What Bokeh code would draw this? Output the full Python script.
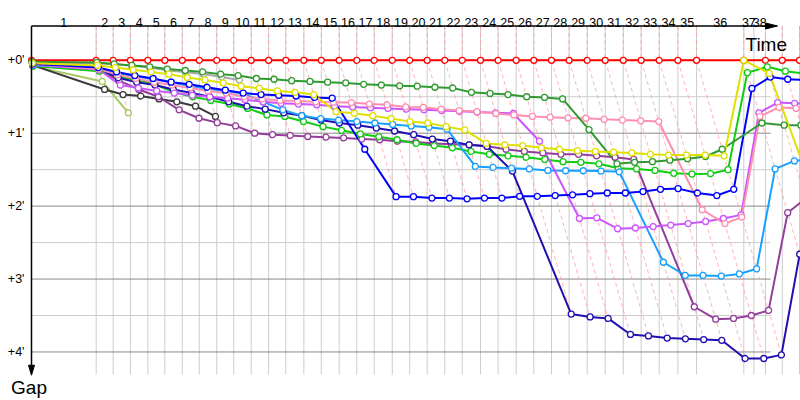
from bokeh.plotting import figure
from bokeh.models import Range1d, FixedTicker, Label, LinearAxis
from bokeh.embed import file_html
from bokeh.resources import INLINE

# ---------------- data (minutes) ----------------
# race leader's lap completion times (lap 0 .. 39), minutes after the start
leader_times = [0.00, 3.08, 3.89, 4.71, 5.54, 6.35, 7.18, 7.99, 8.82, 9.63,
                10.46, 11.29, 12.11, 12.97, 13.80, 14.65, 15.49, 16.32, 17.18, 18.01,
                18.84, 19.68, 20.51, 21.38, 22.22, 23.08, 23.92, 24.76, 25.60, 26.46,
                27.32, 28.18, 29.03, 29.89, 30.78, 31.67, 33.92, 34.95, 35.75, 36.57]
extra_grid_times = [34.40]
lap_labels = [str(n) for n in range(1, 39)]
gap_ticks = [0, 1, 2, 3, 4]
gap_labels = ["+0'", "+1'", "+2'", "+3'", "+4'"]
minor_gap_lines = [0.5, 1.5, 2.5, 3.5]

# gap to the leader at the end of each lap (lap 0 = start), minutes
red_gaps = [0, 0, 0, 0, 0, 0, 0, 0, 0, 0, 0, 0, 0, 0, 0, 0, 0, 0, 0, 0,
            0, 0, 0, 0, 0, 0, 0, 0, 0, 0, 0, 0, 0, 0, 0, 0, 0, 0, 0, 0]
dark_green_gaps = [0.02, 0.03, 0.05, 0.07, 0.09, 0.12, 0.14, 0.16, 0.19, 0.21,
                   0.25, 0.26, 0.28, 0.29, 0.30, 0.31, 0.33, 0.34, 0.35, 0.355,
                   0.37, 0.38, 0.44, 0.455, 0.47, 0.50, 0.51, 0.53, 0.95, 1.42,
                   1.40, 1.39, 1.37, 1.35, 1.32, 1.22, 0.86, 0.89, 0.89, 0.90]
gray_gaps = [0.03, 0.04, 0.055, 0.075, 0.10, 0.14, 0.16, 0.19, 0.23, 0.27]
yellow_gaps = [0.04, 0.07, 0.10, 0.13, 0.16, 0.19, 0.236, 0.27, 0.31, 0.355,
               0.385, 0.42, 0.44, 0.47, 0.705, 0.727, 0.76, 0.80, 0.84, 0.86,
               0.91, 0.955, 1.14, 1.16, 1.17, 1.20, 1.22, 1.24, 1.25, 1.26,
               1.27, 1.29, 1.30, 1.30, 1.30, 1.31, 0.0, 0.18, 2.9]
lime_gaps = [0.08, 0.15, 0.22, 0.27, 0.33, 0.44, 0.50, 0.55, 0.60, 0.66,
             0.75, 0.77, 0.84, 0.91, 0.96, 1.01, 1.05, 1.09, 1.14, 1.17,
             1.20, 1.25, 1.29, 1.31, 1.33, 1.36, 1.39, 1.40, 1.42, 1.48,
             1.49, 1.51, 1.55, 1.56, 1.555, 1.50, 0.17, 0.09, 0.15, 0.18]
blue_gaps = [0.05, 0.10, 0.16, 0.21, 0.25, 0.30, 0.33, 0.37, 0.41, 0.45,
             0.47, 0.48, 0.49, 0.51, 0.52, 1.22, 1.87, 1.87, 1.89, 1.89,
             1.90, 1.89, 1.89, 1.865, 1.865, 1.855, 1.845, 1.83, 1.82, 1.82,
             1.80, 1.77, 1.76, 1.82, 1.855, 1.77, 0.386, 0.23, 0.26, 0.27]
navy_gaps = [0.06, 0.12, 0.24, 0.30, 0.34, 0.40, 0.45, 0.50, 0.57, 0.63,
             0.67, 0.72, 0.76, 0.82, 0.86, 0.89, 0.93, 0.97, 1.02, 1.08,
             1.11, 1.16, 1.18, 1.52, 3.48, 3.52, 3.54, 3.76, 3.78, 3.81,
             3.82, 3.83, 3.84, 4.09, 4.09, 4.04, 2.66]
sky_gaps = [0.07, 0.11, 0.17, 0.22, 0.26, 0.30, 0.35, 0.39, 0.42, 0.46,
            0.57, 0.68, 0.76, 0.80, 0.82, 0.84, 0.86, 0.88, 0.90, 0.92,
            0.945, 1.455, 1.47, 1.48, 1.49, 1.51, 1.515, 1.515, 1.52, 1.53,
            2.77, 2.95, 2.95, 2.96, 2.93, 2.86, 1.49, 1.38, 1.35]
violet_gaps = [0.06, 0.13, 0.34, 0.38, 0.42, 0.45, 0.48, 0.50, 0.52, 0.54,
               0.57, 0.59, 0.60, 0.61, 0.63, 0.64, 0.65, 0.66, 0.67, 0.68,
               0.69, 0.70, 0.71, 0.72, 0.73, 1.11, 2.17, 2.16, 2.31, 2.30,
               2.28, 2.26, 2.24, 2.21, 2.17, 2.12, 0.72, 0.58, 0.59, 0.60]
pink_gaps = [0.05, 0.12, 0.20, 0.25, 0.30, 0.34, 0.38, 0.42, 0.45, 0.50,
             0.53, 0.55, 0.56, 0.57, 0.575, 0.58, 0.60, 0.61, 0.64, 0.645,
             0.67, 0.69, 0.705, 0.73, 0.75, 0.77, 0.78, 0.79, 0.795, 0.81,
             0.82, 0.83, 0.84, 2.05, 2.24, 2.15, 0.77, 0.645, 0.66, 0.66]
purple_gaps = [0.07, 0.14, 0.28, 0.40, 0.50, 0.68, 0.795, 0.855, 0.90, 1.00,
               1.02, 1.03, 1.045, 1.055, 1.065, 1.08, 1.09, 1.11, 1.12, 1.14,
               1.15, 1.16, 1.18, 1.22, 1.25, 1.27, 1.29, 1.29, 1.31, 1.33,
               1.36, 3.38, 3.55, 3.54, 3.50, 3.43, 2.09, 1.90]
black_gaps = [0.07, 0.40, 0.47, 0.49, 0.53, 0.57, 0.63, 0.77]
olive_gaps = [0.08, 0.29, 0.72]

series = [
    ("#ff0000", red_gaps),
    ("#a6c965", olive_gaps),
    ("#3a3a3a", black_gaps),
    ("#a8a8a8", gray_gaps),
    ("#943d9b", purple_gaps),
    ("#11cc11", lime_gaps),
    ("#2010b0", navy_gaps),
    ("#19a0ff", sky_gaps),
    ("#cc55ff", violet_gaps),
    ("#ff8fb0", pink_gaps),
    ("#0000ff", blue_gaps),
    ("#2f9a2f", dark_green_gaps),
    ("#e0e000", yellow_gaps),
]

# ---------------- geometry (pixels of the 800x400 page) ----------------
W, H = 800, 400
FR_LEFT, FR_TOP, FR_BOTTOM = 27, 21, 378      # frame edges
ORIGIN_X, ZERO_Y, AXIS_Y = 31, 60, 25.5       # time origin, +0' line, time axis line
PX_X, PX_Y = 21.0, 73.33                      # pixels per minute along time / gap

x_start = (FR_LEFT - ORIGIN_X) / PX_X
x_end = (W - ORIGIN_X) / PX_X
y_top = (FR_TOP - ZERO_Y) / PX_Y
y_bot = (FR_BOTTOM - ZERO_Y) / PX_Y
y_axis = (AXIS_Y - ZERO_Y) / PX_Y
grid_bottom = (376 - ZERO_Y) / PX_Y
hgrid_right = (770 - ORIGIN_X) / PX_X

p = figure(width=W, height=H, x_range=Range1d(x_start, x_end), y_range=Range1d(y_bot, y_top),
           x_axis_location="above", output_backend="svg", toolbar_location=None,
           min_border_left=FR_LEFT, min_border_top=FR_TOP,
           min_border_right=0, min_border_bottom=H - FR_BOTTOM, outline_line_color=None,
           background_fill_color="white", border_fill_color="white")
p.xgrid.visible = False
p.ygrid.visible = False

# grid
grid_times = sorted(leader_times[1:] + extra_grid_times)
p.segment(x0=grid_times, x1=grid_times, y0=[y_axis] * len(grid_times),
          y1=[grid_bottom] * len(grid_times), line_color="#cccccc", line_width=1)
p.segment(x0=[0] * len(minor_gap_lines), x1=[hgrid_right] * len(minor_gap_lines),
          y0=minor_gap_lines, y1=minor_gap_lines, line_color="#cccccc", line_width=1)
p.segment(x0=[0] * len(gap_ticks), x1=[hgrid_right] * len(gap_ticks),
          y0=gap_ticks, y1=gap_ticks, line_color="#888888", line_width=1)

# lap lines: each lap's crossing line from the time axis through the leader to the last car
lap_xs, lap_ys = [], []
for n in range(1, len(leader_times)):
    gmax = max(g[n] for _, g in series if len(g) > n)
    t = leader_times[n]
    lap_xs.append([t, t, t + gmax])
    lap_ys.append([y_axis, 0, gmax])
p.multi_line(lap_xs, lap_ys, line_color="#ff9999", line_alpha=0.75, line_width=1,
             line_dash="4 3")

# cars
pts = []
for color, gaps in series:
    xs = [leader_times[i] + g for i, g in enumerate(gaps)]
    p.line(xs, gaps, line_color=color, line_width=2)
    pts.append((color, xs, gaps))
for color, xs, gaps in pts:
    p.scatter(xs, gaps, marker="circle", size=6, fill_color="white",
              line_color=color, line_width=1.3)

# axis lines with arrow heads
top_tip = (777 - ORIGIN_X) / PX_X
top_base = top_tip - 12 / PX_X
left_tip = (376.7 - ZERO_Y) / PX_Y
left_base = left_tip - 10 / PX_Y
hw_y = 3 / PX_Y
hw_x = 3 / PX_X
p.line([0, top_base], [y_axis, y_axis], line_color="black", line_width=1.5)
p.line([0, 0], [y_axis, left_base], line_color="black", line_width=1.5)
p.patch([top_tip, top_base, top_base], [y_axis, y_axis - hw_y, y_axis + hw_y],
        fill_color="black", line_color="black", line_width=1)
p.patch([0, -hw_x, hw_x], [left_tip, left_base, left_base],
        fill_color="black", line_color="black", line_width=1)

# top axis: lap numbers centred on each lap
label_bounds = [0.0] + grid_times
label_pos = [round((label_bounds[i] + label_bounds[i + 1]) / 2, 4) for i in range(len(lap_labels))]
xa = p.xaxis[0]
xa.ticker = FixedTicker(ticks=label_pos)
xa.major_label_overrides = {pos: lbl for pos, lbl in zip(label_pos, lap_labels)}
xa.major_tick_line_color = None
xa.minor_tick_line_color = None
xa.major_tick_out = 0
xa.major_tick_in = 0
xa.major_label_standoff = -5
xa.axis_line_color = None
xa.major_label_text_font = "Liberation Sans"
xa.major_label_text_font_size = "12.5px"
xa.major_label_text_color = "black"

# left axis: gap labels
ya = p.yaxis[0]
ya.ticker = FixedTicker(ticks=gap_ticks)
ya.major_label_overrides = {t: l for t, l in zip(gap_ticks, gap_labels)}
ya.major_tick_line_color = None
ya.minor_tick_line_color = None
ya.major_tick_out = 0
ya.major_tick_in = 0
ya.major_label_standoff = 3
ya.axis_line_color = None
ya.major_label_text_font = "Liberation Sans"
ya.major_label_text_font_size = "12.5px"
ya.major_label_text_color = "black"

# "Gap" title of the gap axis, below its arrow
gap_title_x = (28.5 - ORIGIN_X) / PX_X
ba = LinearAxis(ticker=FixedTicker(ticks=[gap_title_x]),
                major_label_overrides={gap_title_x: "Gap"},
                axis_line_color=None, major_tick_line_color=None, minor_tick_line_color=None,
                major_tick_out=0, major_tick_in=0, major_label_standoff=0,
                major_label_text_font="Liberation Sans", major_label_text_font_size="19px",
                major_label_text_color="black")
p.add_layout(ba, "below")

p.add_layout(Label(x=(745 - ORIGIN_X) / PX_X, y=(44.5 - ZERO_Y) / PX_Y, text="Time",
                   text_font="Liberation Sans", text_font_size="19px",
                   text_baseline="alphabetic", text_align="left", text_color="black"))

open("out.html", "w").write(file_html(p, INLINE))
